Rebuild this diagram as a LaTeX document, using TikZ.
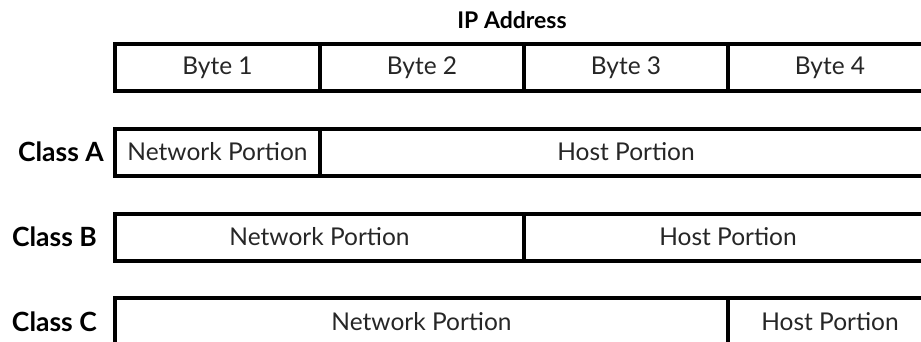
\documentclass[tikz,border=0pt]{standalone}
\usepackage{fontspec}
\setmainfont{Lato}
\begin{document}
\begin{tikzpicture}[x=1pt,y=-1pt,
  cell/.style={draw=black, line width=4pt, rectangle, inner sep=0pt, minimum height=47pt, font=\fontsize{24.5}{26}\selectfont, text=black!85},
  lbl/.style={font=\bfseries\fontsize{26.5}{28}\selectfont, anchor=east, inner sep=0pt},
  ttl/.style={font=\bfseries\fontsize{23}{25}\selectfont, inner sep=0pt}]
\useasboundingbox (0,0) rectangle (921,341);
\clip (0,0) rectangle (921,341);
% header
\node[ttl] (title) at (512,20) {IP Address};
\node[cell, minimum width=205pt] (b1) at (217.5,67.5) {Byte 1};
\node[cell, minimum width=204pt] (b2) at (422,67.5) {Byte 2};
\node[cell, minimum width=204pt] (b3) at (626,67.5) {Byte 3};
\node[cell, minimum width=204pt] (b4) at (830,67.5) {Byte 4};
% Class A
\node[lbl] (ca) at (104,152) {Class A};
\node[cell, minimum width=205pt] (an) at (217.5,152) {Network Portion};
\node[cell, minimum width=612pt] (ah) at (626,152) {Host Portion};
% Class B
\node[lbl] (cb) at (97,237) {Class B};
\node[cell, minimum width=409pt] (bn) at (319.5,237) {Network Portion};
\node[cell, minimum width=408pt] (bh) at (728,237) {Host Portion};
% Class C
\node[lbl] (cc) at (97,322) {Class C};
\node[cell, minimum width=613pt] (cn) at (421.5,321.5) {Network Portion};
\node[cell, minimum width=204pt] (ch) at (830,321.5) {Host Portion};
\end{tikzpicture}
\end{document}
